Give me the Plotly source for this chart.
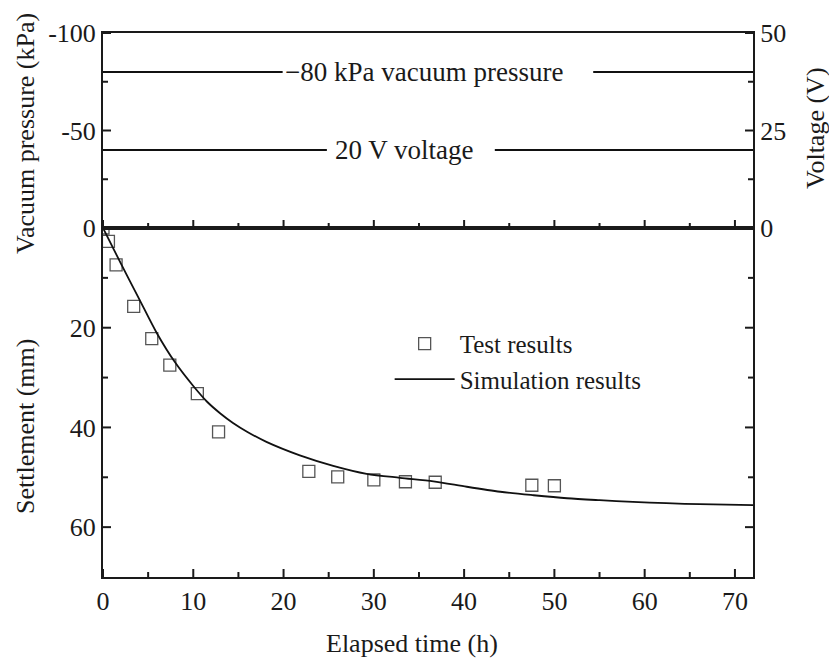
import plotly.graph_objects as go

# ---- data ----
test_t = [0.0, 0.6, 1.45, 3.4, 5.4, 7.4, 10.45, 12.8, 22.8, 26.0, 30.0, 33.5, 36.8, 47.5, 50.0]
test_s = [0.0, 2.7, 7.4, 15.7, 22.2, 27.5, 33.2, 40.9, 48.8, 49.9, 50.5, 50.9, 51.0, 51.6, 51.7]

sim_t = [0, 2, 4, 6, 8, 10, 11.5, 13, 14.4, 16, 18.1, 21.8, 25.5, 29.2, 32.9, 36.6,
         40.3, 44, 47.7, 51.4, 55, 58.7, 62.4, 66.1, 72]
sim_s = [0, 7.2, 14.2, 21.2, 27.0, 31.7, 34.8, 37.2, 39.1, 40.9, 42.9, 45.6, 47.7, 49.3,
         50.1, 50.8, 51.9, 52.9, 53.6, 54.2, 54.6, 54.95, 55.2, 55.4, 55.6]

vac_t = [0, 19.9, None, 54.3, 72]
vac_p = [-80, -80, None, -80, -80]
volt_t = [0, 24.8, None, 43.4, 72]
volt_v = [20, 20, None, 20, 20]

# ---- ticks ----
x_major = [0, 10, 20, 30, 40, 50, 60, 70]
x_minor = [5, 15, 25, 35, 45, 55, 65]
set_major = [0, 20, 40, 60]
set_minor = [10, 30, 50]
vac_major = [-100, -50, 0]
vac_labels = ["-100", "-50", ""]
vac_minor = [-75, -25]
volt_major = [0, 25, 50]
volt_minor = [12.5, 37.5]

X_RANGE = [0, 72]
SET_RANGE = [70, 0]
VAC_RANGE = [0, -100]
VOLT_RANGE = [0, 50]

FONT = "Liberation Serif, Times New Roman, serif"
INK = "#1a1a1a"
TICK = 26
TITLE = 26

# plot-area geometry (pixels) used to convert tick lengths into axis units
PW, H_LOW, H_TOP = 650, 349, 195
MAJ, MIN = 8, 5

fig = go.Figure()

fig.add_trace(go.Scatter(x=test_t, y=test_s, mode="markers", name="Test results",
                         marker=dict(symbol="square-open", size=12, color="#555555",
                                     line=dict(width=1.3)),
                         xaxis="x", yaxis="y"))
fig.add_trace(go.Scatter(x=sim_t, y=sim_s, mode="lines", name="Simulation results",
                         line=dict(color="#111111", width=1.8, shape="spline", smoothing=0.8),
                         xaxis="x", yaxis="y"))
fig.add_trace(go.Scatter(x=vac_t, y=vac_p, mode="lines", showlegend=False,
                         line=dict(color="#111111", width=1.8),
                         xaxis="x2", yaxis="y2"))
fig.add_trace(go.Scatter(x=volt_t, y=volt_v, mode="lines", showlegend=False,
                         line=dict(color="#111111", width=1.8),
                         xaxis="x2", yaxis="y3"))


# ---- inside tick marks built from the tick lists and the axis ranges ----
def unit_per_px(rng, px):
    return (rng[1] - rng[0]) / px


def x_tick_trace(vals, xa, ya, yrng, hpx, length):
    xs, ys = [], []
    base = yrng[0] if yrng[0] < yrng[1] else yrng[0]  # bottom value of the axis
    step = unit_per_px(yrng, hpx) * length             # signed: towards the top
    for v in vals:
        xs += [v, v, None]
        ys += [base, base + step, None]
    fig.add_trace(go.Scatter(x=xs, y=ys, mode="lines", showlegend=False, hoverinfo="skip",
                             cliponaxis=False, line=dict(color=INK, width=2),
                             xaxis=xa, yaxis=ya))


def y_tick_trace(vals, xa, ya, length, right=False):
    xs, ys = [], []
    step = unit_per_px(X_RANGE, PW) * length
    x0 = X_RANGE[1] if right else X_RANGE[0]
    x1 = x0 - step if right else x0 + step
    for v in vals:
        xs += [x0, x1, None]
        ys += [v, v, None]
    fig.add_trace(go.Scatter(x=xs, y=ys, mode="lines", showlegend=False, hoverinfo="skip",
                             cliponaxis=False, line=dict(color=INK, width=2),
                             xaxis=xa, yaxis=ya))


x_tick_trace(x_major, "x", "y", SET_RANGE, H_LOW, MAJ)
x_tick_trace(x_minor, "x", "y", SET_RANGE, H_LOW, MIN)
x_tick_trace(x_major, "x2", "y2", VAC_RANGE, H_TOP, MAJ)
x_tick_trace(x_minor, "x2", "y2", VAC_RANGE, H_TOP, MIN)
y_tick_trace(set_major, "x", "y", MAJ)
y_tick_trace(set_minor, "x", "y", MIN)
y_tick_trace(set_major, "x", "y", MAJ, right=True)
y_tick_trace(set_minor, "x", "y", MIN, right=True)
y_tick_trace(vac_major, "x2", "y2", MAJ)
y_tick_trace(vac_minor, "x2", "y2", MIN)
y_tick_trace(volt_major, "x2", "y3", MAJ, right=True)
y_tick_trace(volt_minor, "x2", "y3", MIN, right=True)

split = H_LOW / (H_LOW + H_TOP)


def ax(**kw):
    d = dict(showgrid=False, zeroline=False, showline=True, linewidth=2, linecolor=INK,
             ticks="", tickfont=dict(family=FONT, size=TICK, color=INK))
    d.update(kw)
    return d


fig.update_layout(
    template="none",
    width=829, height=659,
    margin=dict(l=103, r=76, t=33, b=82),
    paper_bgcolor="white", plot_bgcolor="white",
    font=dict(family=FONT, size=TICK, color=INK),
    xaxis=ax(domain=[0, 1], anchor="y", range=X_RANGE, tickmode="array", tickvals=x_major,
             mirror=True),
    yaxis=ax(domain=[0, split], anchor="x", range=SET_RANGE, tickmode="array",
             tickvals=set_major, mirror=True),
    xaxis2=ax(domain=[0, 1], anchor="y2", range=X_RANGE, tickmode="array", tickvals=x_major,
              mirror=True, showticklabels=False),
    yaxis2=ax(domain=[split, 1], anchor="x2", range=VAC_RANGE, tickmode="array",
              tickvals=vac_major, ticktext=vac_labels),
    yaxis3=ax(overlaying="y2", anchor="x2", side="right", range=VOLT_RANGE, tickmode="array",
              tickvals=volt_major),
    legend=dict(x=0.441, y=0.471, xanchor="left", yanchor="top", bgcolor="rgba(0,0,0,0)",
                font=dict(family=FONT, size=25, color=INK), itemwidth=60,
                tracegroupgap=0),
    showlegend=True,
)

ann = [
    dict(text="Vacuum pressure (kPa)", x=(25 - 103) / 650, y=(577 - 134) / 544, textangle=-90),
    dict(text="Settlement (mm)", x=(25 - 103) / 650, y=(577 - 427) / 544, textangle=-90),
    dict(text="Voltage (V)", x=(815 - 103) / 650, y=(577 - 128) / 544, textangle=-90),
    dict(text="Elapsed time (h)", x=(412 - 103) / 650, y=(577 - 643) / 544, textangle=0),
]
for a in ann:
    fig.add_annotation(xref="paper", yref="paper", showarrow=False, xanchor="center",
                       yanchor="middle", font=dict(family=FONT, size=TITLE, color=INK), **a)

fig.add_annotation(xref="x2", yref="y2", x=19.9, y=-80, text="\u221280 kPa vacuum pressure",
                   showarrow=False, xanchor="left", yanchor="middle",
                   font=dict(family=FONT, size=27, color=INK))
fig.add_annotation(xref="x2", yref="y3", x=25.5, y=20, text="20 V voltage",
                   showarrow=False, xanchor="left", yanchor="middle",
                   font=dict(family=FONT, size=27, color=INK))

fig.write_html("out.html")
